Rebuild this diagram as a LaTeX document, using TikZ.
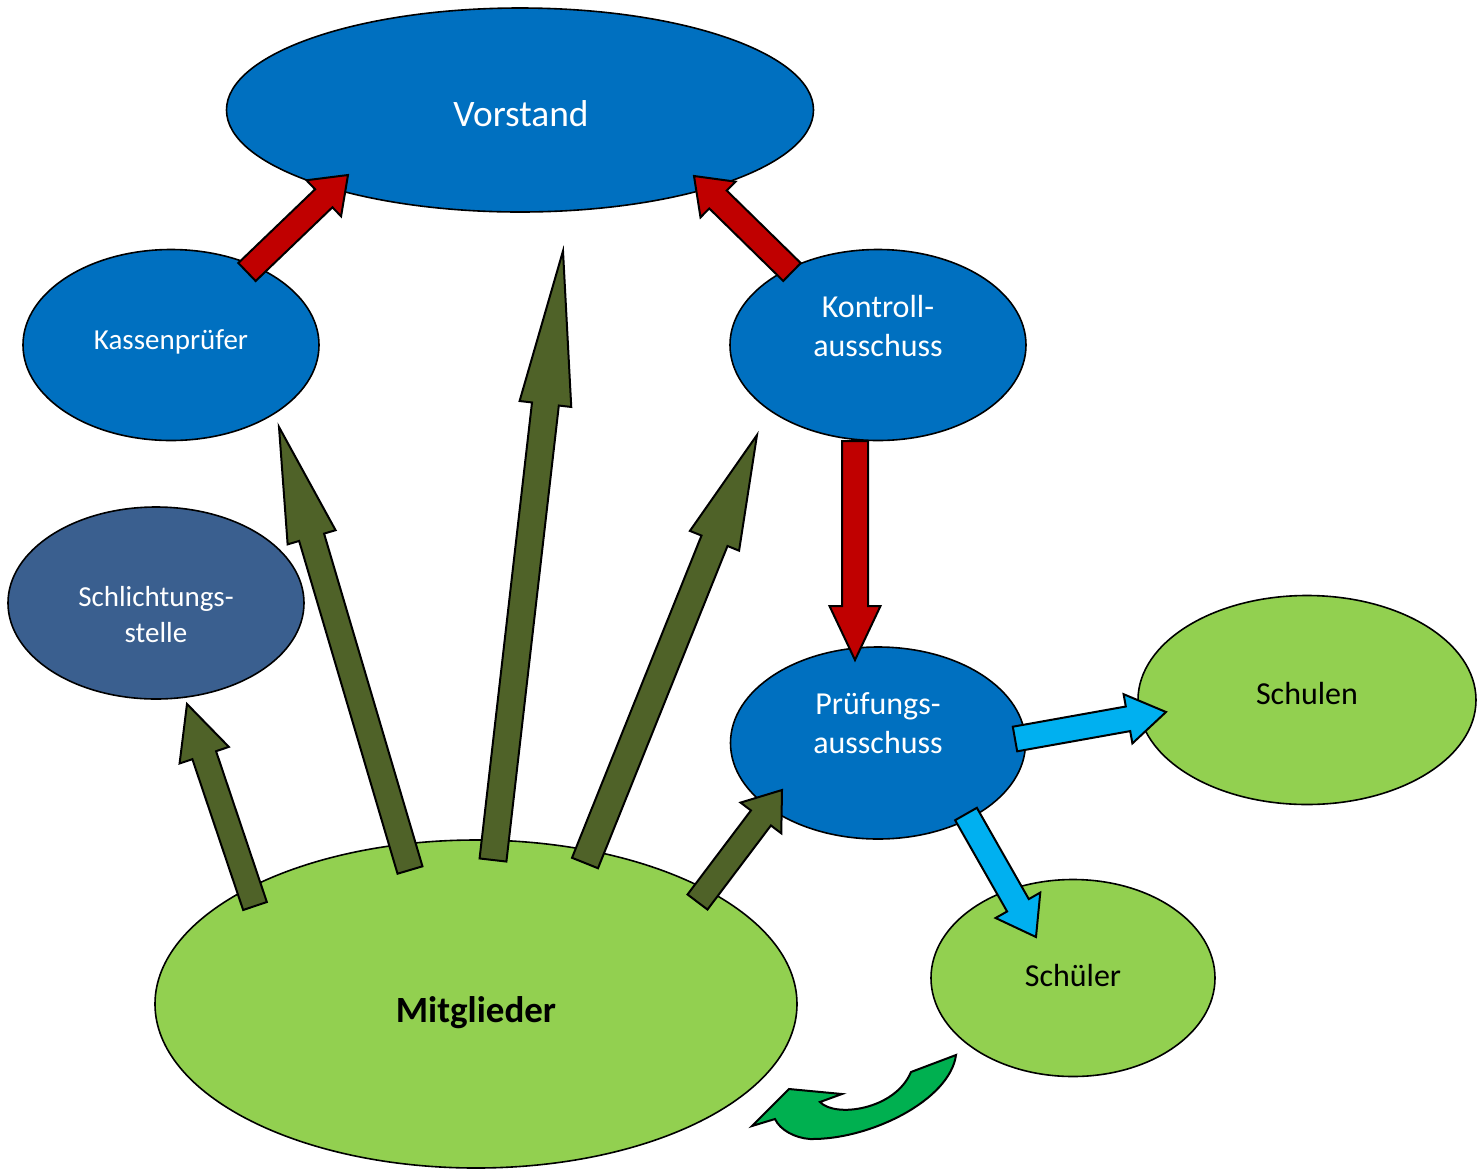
\documentclass[tikz,border=0pt]{standalone}
\usepackage{fontspec}
\setmainfont{Carlito}
\usetikzlibrary{shapes.geometric,calc}
\definecolor{cblue}{HTML}{0070C0}
\definecolor{cslate}{HTML}{3A5F8F}
\definecolor{clgreen}{HTML}{92D050}
\definecolor{colive}{HTML}{4F6228}
\definecolor{cred}{HTML}{C00000}
\definecolor{clblue}{HTML}{00B0F0}
\definecolor{cgreen}{HTML}{00B050}
\tikzset{
  oval/.style={ellipse, draw=black, line width=0.8pt, inner sep=0pt, outer sep=0pt},
  blockarr/.style={draw=black, line width=1pt, line join=miter},
  wlabel/.style={text=white, align=center, inner sep=0pt},
  blabel/.style={text=black, align=center, inner sep=0pt},
}
\newcommand{\blockarrow}[6]{%
  \coordinate (hb) at ($(#2)!#5!(#1)$);
  \draw[blockarr, fill=#6] ($(#1)!#3!90:(#2)$) -- ($(hb)!#3!90:(#2)$) -- ($(hb)!#4!90:(#2)$) -- (#2)
    -- ($(hb)!#4!-90:(#2)$) -- ($(hb)!#3!-90:(#2)$) -- ($(#1)!#3!-90:(#2)$) -- cycle;
}
\begin{document}
\begin{tikzpicture}[x=0.5pt,y=-0.5pt]
\useasboundingbox (0,0) rectangle (1480,1169);
% ellipses
\node[oval, fill=cblue, minimum width=293.5pt, minimum height=102pt] (vorstand) at (520,110) {};
\node[oval, fill=cblue, minimum width=148pt, minimum height=95.5pt] (kasse) at (171,345) {};
\node[oval, fill=cblue, minimum width=148pt, minimum height=95.5pt] (kontroll) at (878,345) {};
\node[oval, fill=cslate, minimum width=148pt, minimum height=96pt] (schlicht) at (156,603) {};
\node[oval, fill=cblue, minimum width=147.5pt, minimum height=96pt] (pruef) at (878,743) {};
\node[oval, fill=clgreen, minimum width=169pt, minimum height=104.5pt] (schulen) at (1307,700) {};
\node[oval, fill=clgreen, minimum width=142pt, minimum height=98.5pt] (schueler) at (1073,978) {};
\node[oval, fill=clgreen, minimum width=321pt, minimum height=164pt] (mitglieder) at (476,1004) {};
% texts
\node[wlabel, font=\fontsize{18.7}{22}\selectfont] (tvorstand) at (521,114) {Vorstand};
\node[wlabel, font=\fontsize{14.5}{18}\selectfont] (tkasse) at (171,342) {Kassenprüfer};
\node[wlabel, font=\fontsize{16}{19.5}\selectfont] (tkontroll) at (878,326) {Kontroll-\\ausschuss};
\node[wlabel, font=\fontsize{14.5}{18}\selectfont] (tschlicht) at (156,615) {Schlichtungs-\\stelle};
\node[wlabel, font=\fontsize{16}{19.5}\selectfont] (tpruef) at (878,723) {Prüfungs-\\ausschuss};
\node[blabel, font=\fontsize{16}{19.5}\selectfont] (tschulen) at (1307,693) {Schulen};
\node[blabel, font=\fontsize{16}{19.5}\selectfont] (tschueler) at (1073,975) {Schüler};
\node[blabel, font=\bfseries\fontsize{18.5}{22}\selectfont] (tmitglieder) at (476,1013) {Mitglieder};
% arrow end points
\coordinate (r1a) at (247,272);  \coordinate (r1b) at (348,175);
\coordinate (r2a) at (792,272);  \coordinate (r2b) at (694,176);
\coordinate (r3a) at (855,441);  \coordinate (r3b) at (855,660);
\coordinate (o1a) at (255,906);  \coordinate (o1b) at (187,704);
\coordinate (o2a) at (410,870);  \coordinate (o2b) at (279,427);
\coordinate (o3a) at (493,860);  \coordinate (o3b) at (563,251);
\coordinate (o4a) at (585,863);  \coordinate (o4b) at (757,435);
\coordinate (o5a) at (697.5,902); \coordinate (o5b) at (782,790);
\coordinate (b1a) at (1015,739); \coordinate (b1b) at (1166,712);
\coordinate (b2a) at (966,814);  \coordinate (b2b) at (1036,937);
% red arrows
\blockarrow{r1a}{r1b}{6.25pt}{12.5pt}{16.8pt}{cred}
\blockarrow{r2a}{r2b}{6.25pt}{12.5pt}{16.8pt}{cred}
\blockarrow{r3a}{r3b}{6.5pt}{12.75pt}{27pt}{cred}
% olive arrows
\blockarrow{o1a}{o1b}{6.25pt}{13pt}{27pt}{colive}
\blockarrow{o2a}{o2b}{6.5pt}{12.5pt}{57.5pt}{colive}
\blockarrow{o3a}{o3b}{6.75pt}{13pt}{77pt}{colive}
\blockarrow{o4a}{o4b}{7pt}{13.25pt}{57pt}{colive}
\blockarrow{o5a}{o5b}{6.25pt}{12.75pt}{17.5pt}{colive}
% light blue arrows
\blockarrow{b1a}{b1b}{6.25pt}{12.5pt}{19.3pt}{clblue}
\blockarrow{b2a}{b2b}{6.25pt}{12.85pt}{18.25pt}{clblue}
% curved green arrow
\draw[blockarr, fill=cgreen] (956,1055) .. controls (950,1100) and (870,1140) .. (810,1139)
  .. controls (795,1138) and (780,1130) .. (775,1119) -- (752,1126) -- (789,1089) -- (842,1094)
  -- (820,1102) .. controls (835,1118) and (895,1110) .. (911,1072) -- cycle;
\end{tikzpicture}
\end{document}
